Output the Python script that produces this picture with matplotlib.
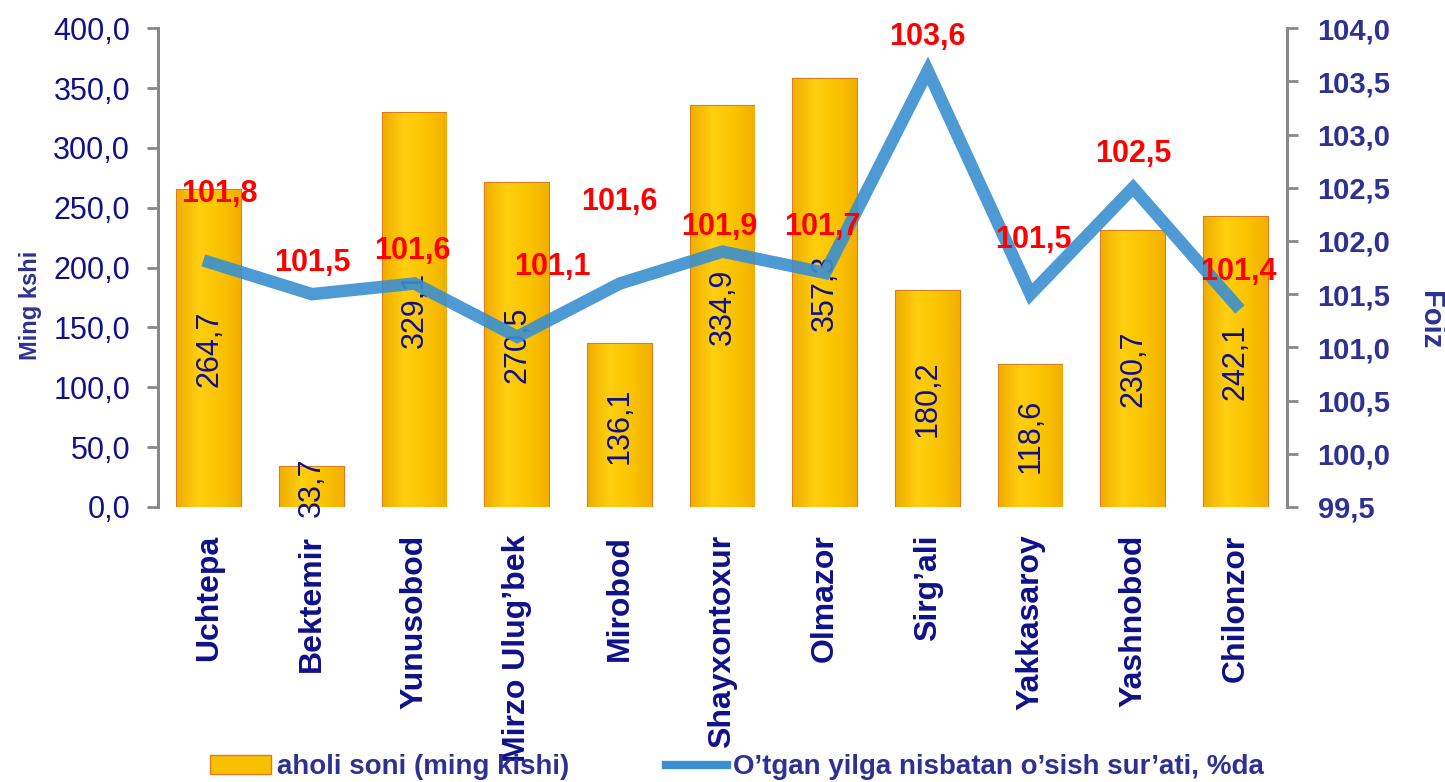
import matplotlib.pyplot as plt
import numpy as np
from matplotlib.lines import Line2D
from matplotlib.patches import Patch
from matplotlib.colors import LinearSegmentedColormap

plt.rcParams['font.family'] = ['Liberation Sans', 'DejaVu Sans']

tumanlar = ['Uchtepa', 'Bektemir', 'Yunusobod', 'Mirzo Ulug\u2019bek', 'Mirobod',
            'Shayxontoxur', 'Olmazor', 'Sirg\u2019ali', 'Yakkasaroy', 'Yashnobod', 'Chilonzor']
aholi = [264.7, 33.7, 329.1, 270.5, 136.1, 334.9, 357.3, 180.2, 118.6, 230.7, 242.1]
foiz = [101.8, 101.5, 101.6, 101.1, 101.6, 101.9, 101.7, 103.6, 101.5, 102.5, 101.4]

# where the red percent labels sit relative to their point (pixels)
offs = [(10, 68), (0, 31), (-2, 33), (35, 70), (0, 82), (-3, 25),
        (-3, 46), (0, 34), (3, 54), (0, 34), (3, 33)]

navy = '#10108a'
navy2 = '#2e3192'
gold = '#f7c000'
edge = '#e07a20'
blue = '#3a8fd0'

fig = plt.figure(figsize=(14.45, 7.82), dpi=100)
ax = fig.add_axes([0.1093, 0.3517, 0.7814, 0.6123])
ax2 = ax.twinx()

x = np.arange(len(tumanlar))
bars = ax.bar(x, aholi, width=0.62, color=gold, edgecolor=edge, linewidth=1.5, zorder=2)

# golden gradient inside the bars
cmap = LinearSegmentedColormap.from_list('zoloto', ['#f0ae00', '#ffcf10', '#fbc400', '#f2b000'])
grad = np.linspace(0, 1, 64).reshape(1, -1)
for b in bars:
    im = ax.imshow(grad, cmap=cmap, aspect='auto', zorder=2.1,
                   extent=(b.get_x(), b.get_x() + b.get_width(), 0, b.get_height()))
    im.set_clip_path(b)
ax.set_aspect('auto')

for b, v in zip(bars, aholi):
    ax.text(b.get_x() + b.get_width() / 2, v / 2, f'{v:.1f}'.replace('.', ','),
            rotation=90, ha='center', va='center', fontsize=22, color=navy, zorder=5)

ax.set_xlim(-0.5, len(tumanlar) - 0.5)
ax.set_ylim(0, 400)
ax.set_yticks(np.arange(0, 401, 50))
ax.set_yticklabels([f'{t:.1f}'.replace('.', ',') for t in np.arange(0, 401, 50)],
                   fontsize=22, color=navy)
ax.set_xticks(x)
ax.set_xticklabels(tumanlar, rotation=90, fontsize=23, fontweight='bold', color=navy)
ax.tick_params(axis='x', length=0, pad=20)
ax.tick_params(axis='y', length=8, width=2, color='#888888', pad=12)
ax.set_ylabel('Ming kshi', fontsize=17, fontweight='bold', color=navy2, va='center')
ax.yaxis.set_label_coords(-0.113, 0.42)

ax2.plot(x, foiz, color=blue, alpha=0.9, linewidth=9, solid_joinstyle='miter', zorder=3)
ax2.set_ylim(99.5, 104)
ax2.set_yticks(np.arange(99.5, 104.01, 0.5))
ax2.set_yticklabels([f'{t:.1f}'.replace('.', ',') for t in np.arange(99.5, 104.01, 0.5)],
                    fontsize=21, fontweight='bold', color=navy2)
ax2.tick_params(axis='y', length=8, width=2, color='#888888', pad=14)
ax2.set_ylabel('Foiz', fontsize=21, fontweight='bold', color=navy2, rotation=270, va='center')
ax2.yaxis.set_label_coords(1.127, 0.39)
for xi, v, (dx, dy) in zip(x, foiz, offs):
    ax2.annotate(f'{v:.1f}'.replace('.', ','), (xi, v), xytext=(dx, dy),
                 textcoords='offset pixels', ha='center', va='center',
                 fontsize=22, fontweight='bold', color='red', zorder=6)

for a in (ax, ax2):
    a.spines['top'].set_visible(False)
    a.spines['bottom'].set_visible(False)
    a.spines['left'].set_color('#888888')
    a.spines['right'].set_color('#888888')
    a.spines['left'].set_linewidth(2)
    a.spines['right'].set_linewidth(2)

handles = [Patch(facecolor=gold, edgecolor=edge),
           Line2D([0], [0], color=blue, linewidth=6)]
fig.legend(handles, ['aholi soni (ming kishi)', 'O\u2019tgan yilga nisbatan o\u2019sish sur\u2019ati, %da'],
           loc='lower center', bbox_to_anchor=(0.51, -0.03), ncol=2, frameon=False,
           prop={'size': 20, 'weight': 'bold'}, labelcolor=navy2, columnspacing=3.5,
           handlelength=2.2, handletextpad=0.2)

fig.savefig('out.png', dpi=100)
